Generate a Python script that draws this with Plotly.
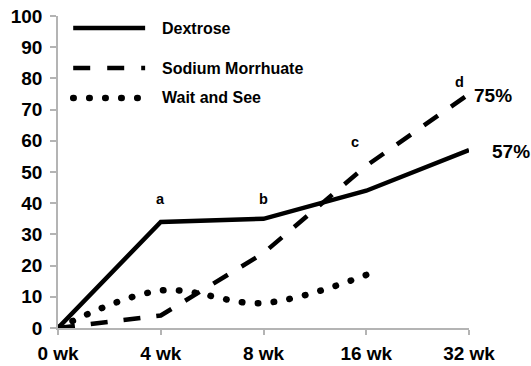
import plotly.graph_objects as go

# Follow-up time points and outcomes (%) per treatment group
weeks = ["0 wk", "4 wk", "8 wk", "16 wk", "32 wk"]
dextrose = [0, 34, 35, 44, 57]
sodium_morrhuate = [0, 4, 24, 52, 75]
wait_and_see = [0, 12, 8, 17]
y_ticks = list(range(0, 101, 10))

series_names = ["Dextrose", "Sodium Morrhuate", "Wait and See"]
point_labels = ["a", "b", "c", "d"]
end_labels = ["75%", "57%"]

FONT = "Liberation Sans, Arial, sans-serif"
AXIS_GRAY = "#b4b4b4"
pos = list(range(len(weeks)))

fig = go.Figure()

fig.add_trace(go.Scatter(
    x=pos, y=dextrose, mode="lines", name=series_names[0],
    line=dict(color="black", width=4.5), showlegend=False,
))
fig.add_trace(go.Scatter(
    x=pos, y=sodium_morrhuate, mode="lines", name=series_names[1],
    line=dict(color="black", width=4.5, dash="17px,16px"), showlegend=False,
))
fig.add_trace(go.Scatter(
    x=pos[:len(wait_and_see)], y=wait_and_see, mode="lines", name=series_names[2],
    line=dict(color="black", width=6.5, dash="0.5px,15.5px", shape="spline", smoothing=1.0),
    showlegend=False,
))

# Hand-placed legend: sample lines plus bold labels
legend_rows = [(0.9615, "solid", 4.5), (0.8333, "17px,17px", 4.5), (0.7372, "0.5px,15.5px", 6.5)]
for name, (yp, dash, w) in zip(series_names, legend_rows):
    fig.add_shape(type="line", xref="paper", yref="paper",
                  x0=0.037, x1=0.212, y0=yp, y1=yp,
                  line=dict(color="black", width=w, dash=dash))
    fig.add_annotation(xref="paper", yref="paper", x=0.248, y=yp,
                       text=f"<b>{name}</b>", showarrow=False,
                       xanchor="left", yanchor="middle",
                       font=dict(family=FONT, size=16, color="black"))

# Letter markers above points
letter_pos = [(1.0, 41.5), (2.0, 41.5), (2.89, 59.5), (3.91, 79)]
for lab, (xp, yp) in zip(point_labels, letter_pos):
    fig.add_annotation(x=xp, y=yp, text=f"<b>{lab}</b>", showarrow=False,
                       font=dict(family=FONT, size=14.5, color="black"))

# Final values at 32 weeks, placed just right of the plot area
fig.add_annotation(xref="paper", yref="y", x=1.008, y=sodium_morrhuate[-1] - 0.5,
                   text=f"<b>{end_labels[0]}</b>",
                   showarrow=False, xanchor="left", yanchor="middle",
                   font=dict(family=FONT, size=19, color="black"))
fig.add_annotation(xref="paper", yref="y", x=1.05, y=dextrose[-1] - 0.5,
                   text=f"<b>{end_labels[1]}</b>",
                   showarrow=False, xanchor="left", yanchor="middle",
                   font=dict(family=FONT, size=19, color="black"))

fig.update_layout(
    width=531, height=366,
    margin=dict(l=58, r=62, t=16, b=38),
    paper_bgcolor="white", plot_bgcolor="white",
    font=dict(family=FONT, color="black"),
    showlegend=False,
)
fig.update_xaxes(
    range=[0, 4], tickmode="array", tickvals=pos,
    ticktext=[f"<b>{w}</b>" for w in weeks],
    showgrid=False, zeroline=False, automargin=False,
    showline=True, linecolor=AXIS_GRAY, linewidth=1.5,
    ticks="outside", ticklen=5, tickcolor=AXIS_GRAY, tickwidth=1.5,
    tickfont=dict(family=FONT, size=19, color="black"),
    ticklabelstandoff=2,
)
fig.update_yaxes(
    range=[0, 100], tickmode="array", tickvals=y_ticks,
    ticktext=[f"<b>{v}</b>" for v in y_ticks],
    showgrid=False, zeroline=False, automargin=False,
    showline=True, linecolor=AXIS_GRAY, linewidth=1.5,
    ticks="outside", ticklen=6, tickcolor=AXIS_GRAY, tickwidth=1.5,
    tickfont=dict(family=FONT, size=19, color="black"),
    ticklabelstandoff=4,
)

# Round the dotted strokes so the dots come out circular
post = """
document.querySelectorAll('path').forEach(function(p){
  var d = (p.style.strokeDasharray || '').replace(/\\s/g,'');
  if (d.indexOf('0.5px') === 0 || d.indexOf('0.5,') === 0) { p.style.strokeLinecap = 'round'; }
});
"""
fig.write_html("out.html", post_script=post)
